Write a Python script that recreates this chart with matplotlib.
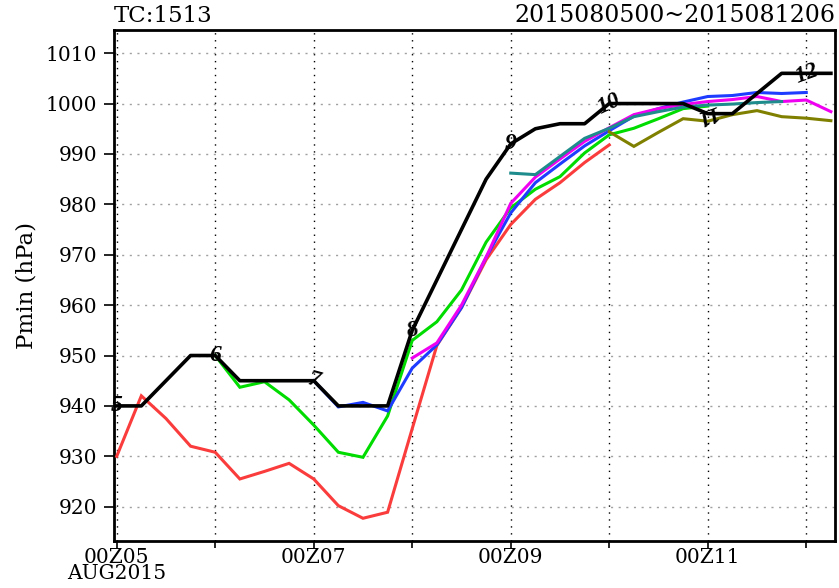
import numpy as np
import matplotlib.pyplot as plt

# 6-hourly times from 00Z05 to 06Z12 Aug 2015 (hours since 00Z05)
hours = np.arange(30) * 6
nan = np.nan

# best track (black) and forecast minimum pressures (hPa)
best = [940, 940, 945, 950, 950, 945, 945, 945, 945, 940, 940, 940, 955, 965, 975,
        985, 992, 995, 996, 996, 1000, 1000, 1000, 1000, 998, 998, 1002, 1006, 1006, 1006]
fc_red = [930, 942, 937.5, 932, 930.8, 925.5, 927, 928.6, 925.5, 920.2, 917.7, 918.9,
          935.5, 952, 959.5, 969, 976, 981, 984.3, 988.3, 991.8] + [nan] * 9
fc_green = [nan] * 4 + [950, 943.7, 944.8, 941.2, 936.2, 930.8, 929.8, 938, 953, 956.7,
                        963, 972.5, 979.3, 983, 985.5, 990.2, 993.8, 995.1, 997, 999,
                        999.5] + [nan] * 5
fc_blue = [nan] * 8 + [945, 939.8, 940.7, 939, 947.5, 952.1, 959.5, 969.5, 978.3, 984.3,
                       988, 991.6, 994.6, 997.5, 999, 1000.3, 1001.4, 1001.6, 1002.2,
                       1002, 1002.2, nan]
fc_magenta = [nan] * 12 + [949.5, 952.5, 960, 969.5, 980.2, 985.4, 989, 992.5, 995.2,
                           997.8, 999, 999.8, 1000.4, 1000.8, 1001.4, 1000.4, 1000.7, 998.4]
fc_teal = [nan] * 16 + [986.2, 985.9, 989.5, 993.1, 995.1, 997.4, 998.4, 999.3, 999.7,
                        999.9, 1000.2, 1000.4, nan, nan]
fc_olive = [nan] * 20 + [994.4, 991.5, 994.3, 997, 996.5, 997.8, 998.6, 997.4, 997.1, 996.6]

day_labels = ['5', '6', '7', '8', '9', '10', '11', '12']
label_rot = [0, 0, -15, 10, 0, 25, 200, 20]
xtick_labels = ['00Z05\nAUG2015', '', '00Z07', '', '00Z09', '', '00Z11', '']

forecasts = [
    (fc_red, '#fa3c3c'),
    (fc_green, '#00dc00'),
    (fc_blue, '#1e3cff'),
    (fc_magenta, '#f000f0'),
    (fc_teal, '#1e8c8c'),
    (fc_olive, '#808000'),
]

serif = 'DejaVu Serif'

fig = plt.figure(figsize=(8.39, 5.88), dpi=100)
ax = fig.add_axes([114 / 839, 1 - 540.7 / 588, (835 - 114) / 839, (540.7 - 30) / 588])

# grid: dotted black at each day, grey dotted every 10 hPa
for d in range(8):
    ax.axvline(d * 24, color='black', lw=1.0, ls=(0, (1, 4)), zorder=1)
for p in range(920, 1011, 10):
    ax.axhline(p, color='#a0a0a0', lw=1.0, ls=(0, (1.5, 4)), zorder=1)

for vals, col in forecasts:
    ax.plot(hours, vals, color=col, lw=2.2, zorder=3, solid_joinstyle='miter')
ax.plot(hours, best, color='black', lw=2.6, zorder=4)

for i, lab in enumerate(day_labels):
    ax.text(i * 24, best[i * 4], lab, ha='center', va='center', fontsize=17,
            family='Liberation Serif', style='italic', weight='bold',
            rotation=label_rot[i], zorder=5)

ax.set_xlim(-0.66, 175)
ax.set_ylim(913.25, 1014.6)

ax.set_xticks(np.arange(8) * 24)
ax.set_xticklabels(xtick_labels, family=serif, fontsize=14.5, linespacing=0.85)
ax.set_yticks(np.arange(920, 1011, 10))
ax.set_yticklabels([str(v) for v in range(920, 1011, 10)], family=serif, fontsize=14.5)
ax.tick_params(axis='x', direction='out', length=5, width=1.2, pad=0)
ax.tick_params(axis='y', direction='out', length=7, width=1.2, pad=5)
for s in ax.spines.values():
    s.set_linewidth(2)

ax.set_ylabel('Pmin (hPa)', family=serif, fontsize=16.5, labelpad=6)
ax.text(0.0, 1.005, 'TC:1513', transform=ax.transAxes, ha='left', va='bottom',
        family=serif, fontsize=16.5)
ax.text(1.0, 1.005, '2015080500~2015081206', transform=ax.transAxes, ha='right',
        va='bottom', family=serif, fontsize=17)

fig.savefig('out.png', dpi=100)
